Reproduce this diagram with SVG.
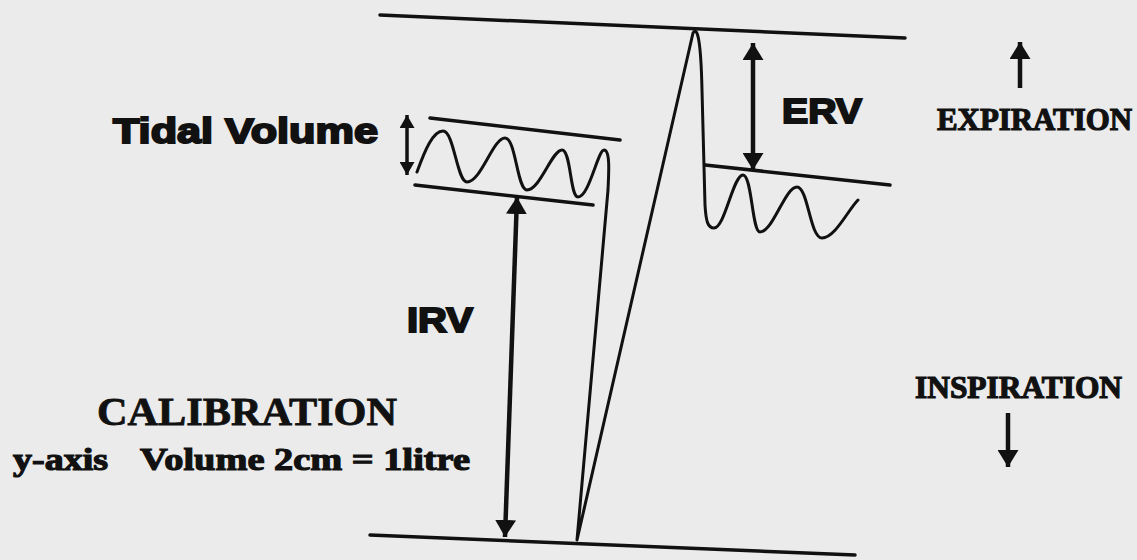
<svg xmlns="http://www.w3.org/2000/svg" width="1137" height="560" viewBox="0 0 1137 560">
<defs>
<style>
.ln{stroke:#111;stroke-width:3.5;fill:none;stroke-linecap:round}
.tr{stroke:#111;stroke-width:3;fill:none;stroke-linejoin:round;stroke-linecap:round}
.ar{stroke:#111;stroke-width:4.5;fill:none}
.ars{stroke:#111;stroke-width:3.5;fill:none}
.sans{font-family:"Liberation Sans",Arial,sans-serif;font-weight:bold;fill:#111;stroke:#111;stroke-width:2}
.serif{font-family:"Liberation Serif","Times New Roman",serif;font-weight:bold;fill:#111;stroke:#111;stroke-width:1.2}
</style>
<marker id="ah" viewBox="0 0 10 10" refX="10" refY="5" markerWidth="17" markerHeight="21" markerUnits="userSpaceOnUse" orient="auto-start-reverse" preserveAspectRatio="none">
<path d="M0,0 L10,5 L0,10 z" fill="#111"/>
</marker>
<marker id="ahs" viewBox="0 0 10 10" refX="10" refY="5" markerWidth="13" markerHeight="15" markerUnits="userSpaceOnUse" orient="auto-start-reverse" preserveAspectRatio="none">
<path d="M0,0 L10,5 L0,10 z" fill="#111"/>
</marker>
</defs>
<rect width="1137" height="560" fill="#ebebeb"/>
<g id="levels">
<line class="ln" x1="380" y1="15" x2="905" y2="38"/>
<line class="ln" x1="370" y1="535" x2="855" y2="555"/>
<line class="ln" x1="430" y1="118" x2="620" y2="140"/>
<line class="ln" x1="415" y1="185" x2="593" y2="205"/>
<line class="ln" x1="705" y1="165" x2="890" y2="185"/>
</g>
<g id="trace">
<path class="tr" d="M417,172 C425,150 433,131 443,131 C454,131 457,182 467,182 C481,182 493,138 505,138 C516,138 517,190 527,190 C540,190 552,150 562,150 C571,150 570,197 578,197 C589,197 598,150 604,150 C610,150 609,170 608,190 L577,540 L693,33 C698,25 701,45 702,90 L705,205 C706,222 708,228 714,228 C725,228 733,175 743,175 C752,175 752,232 760,232 C773,232 785,187 797,187 C808,187 810,238 822,238 C835,238 848,210 858,200"/>
</g>
<g id="connectors">
<line class="ars" x1="407" y1="115" x2="407" y2="175" marker-start="url(#ahs)" marker-end="url(#ahs)"/>
<line class="ar" x1="517" y1="197" x2="505" y2="537" marker-start="url(#ah)" marker-end="url(#ah)"/>
<line class="ar" x1="753" y1="43" x2="753" y2="170" marker-start="url(#ah)" marker-end="url(#ah)"/>
<line class="ar" x1="1020" y1="88" x2="1020" y2="42" marker-end="url(#ah)"/>
<line class="ar" x1="1008" y1="413" x2="1008" y2="467" marker-end="url(#ah)"/>
</g>
<g id="label-tidal"><text class="sans" x="113" y="143" font-size="35" textLength="265" lengthAdjust="spacingAndGlyphs">Tidal Volume</text></g>
<g id="label-irv"><text class="sans" x="407" y="332" font-size="35" textLength="66" lengthAdjust="spacingAndGlyphs">IRV</text></g>
<g id="label-erv"><text class="sans" x="782" y="123" font-size="35" textLength="80" lengthAdjust="spacingAndGlyphs">ERV</text></g>
<g id="label-expiration"><text class="serif" x="937" y="130" font-size="31" textLength="195" lengthAdjust="spacingAndGlyphs">EXPIRATION</text></g>
<g id="label-inspiration"><text class="serif" x="915" y="398" font-size="31" textLength="207" lengthAdjust="spacingAndGlyphs">INSPIRATION</text></g>
<g id="label-calibration">
<text class="serif" x="97" y="425" font-size="41" style="stroke-width:0.8" textLength="300" lengthAdjust="spacingAndGlyphs">CALIBRATION</text>
<text class="serif" x="13" y="470" font-size="32" textLength="95" lengthAdjust="spacingAndGlyphs">y-axis</text>
<text class="serif" x="140" y="470" font-size="32" textLength="330" lengthAdjust="spacingAndGlyphs">Volume 2cm = 1litre</text>
</g>
</svg>
